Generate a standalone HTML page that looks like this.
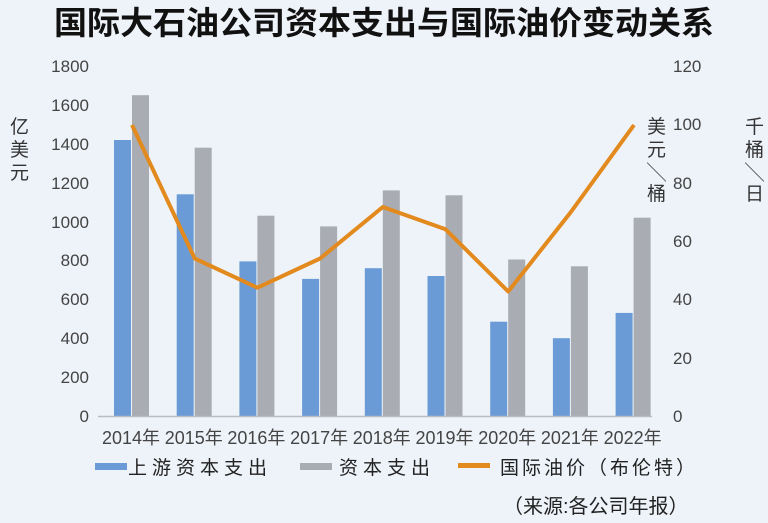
<!DOCTYPE html>
<html><head><meta charset="utf-8"><style>
html,body{margin:0;padding:0;background:#eef3f9;}
svg{display:block;}
text{font-family:"Liberation Sans","Noto Sans CJK SC",sans-serif;}
</style></head><body>
<svg width="768" height="523" viewBox="0 0 768 523" xmlns="http://www.w3.org/2000/svg">
<rect width="768" height="523" fill="#eef3f9"/>
<text x="384" y="34" text-anchor="middle" font-size="32" font-weight="bold" fill="#111" textLength="660" lengthAdjust="spacingAndGlyphs" style="font-family:'Noto Sans CJK SC',sans-serif">国际大石油公司资本支出与国际油价变动关系</text>
<g font-size="17" fill="#444" text-anchor="end">
<text x="89" y="72">1800</text><text x="89" y="111">1600</text><text x="89" y="150">1400</text>
<text x="89" y="189">1200</text><text x="89" y="228">1000</text><text x="89" y="266">800</text>
<text x="89" y="305">600</text><text x="89" y="344">400</text><text x="89" y="383">200</text><text x="89" y="422">0</text>
</g>
<g font-size="17" fill="#444">
<text x="673" y="72">120</text><text x="673" y="130">100</text><text x="673" y="189">80</text>
<text x="673" y="247">60</text><text x="673" y="305">40</text><text x="673" y="364">20</text><text x="673" y="422">0</text>
</g>
<g font-size="19" fill="#333" style="font-family:'Noto Sans CJK SC',sans-serif">
<text x="10" y="133">亿</text><text x="10" y="156">美</text><text x="10" y="179">元</text>
<text x="647" y="133">美</text><text x="647" y="156">元</text><text x="647" y="179">╲</text><text x="647" y="200">桶</text>
<text x="745" y="133">千</text><text x="745" y="156">桶</text><text x="745" y="179">╲</text><text x="745" y="200">日</text>
</g>
<g fill="#6a9bd6">
<rect x="114" y="140" width="17" height="276"/><rect x="176.7" y="194.3" width="17" height="221.7"/>
<rect x="239.4" y="261.4" width="17" height="154.6"/><rect x="302.1" y="278.9" width="17" height="137.1"/>
<rect x="364.8" y="268.2" width="17" height="147.8"/><rect x="427.5" y="276" width="17" height="140"/>
<rect x="490.2" y="321.7" width="17" height="94.3"/><rect x="552.9" y="338.2" width="17" height="77.8"/>
<rect x="615.6" y="312.9" width="17" height="103.1"/>
</g>
<g fill="#a9acb2">
<rect x="132" y="95.2" width="17" height="320.8"/><rect x="194.7" y="147.7" width="17" height="268.3"/>
<rect x="257.4" y="215.7" width="17" height="200.3"/><rect x="320.1" y="226.4" width="17" height="189.6"/>
<rect x="382.8" y="190.4" width="17" height="225.6"/><rect x="445.5" y="195.3" width="17" height="220.7"/>
<rect x="508.2" y="259.5" width="17" height="156.5"/><rect x="570.9" y="266.3" width="17" height="149.7"/>
<rect x="633.6" y="217.7" width="17" height="198.3"/>
</g>
<line x1="98" y1="416.5" x2="652" y2="416.5" stroke="#b8bcc4" stroke-width="1.5"/>
<polyline fill="none" stroke="#e38a1e" stroke-width="4" stroke-linejoin="round" points="132,125 194.7,258.5 257.4,287.7 320.1,258.5 382.8,207 445.5,229.3 508.2,291.5 570.9,212 634,125"/>
<g font-size="18" fill="#444" text-anchor="middle">
<text x="131" y="444" textLength="58" lengthAdjust="spacingAndGlyphs">2014年</text><text x="193.7" y="444" textLength="58" lengthAdjust="spacingAndGlyphs">2015年</text><text x="256.4" y="444" textLength="58" lengthAdjust="spacingAndGlyphs">2016年</text>
<text x="319.1" y="444" textLength="58" lengthAdjust="spacingAndGlyphs">2017年</text><text x="381.8" y="444" textLength="58" lengthAdjust="spacingAndGlyphs">2018年</text><text x="444.5" y="444" textLength="58" lengthAdjust="spacingAndGlyphs">2019年</text>
<text x="507.2" y="444" textLength="58" lengthAdjust="spacingAndGlyphs">2020年</text><text x="569.9" y="444" textLength="58" lengthAdjust="spacingAndGlyphs">2021年</text><text x="632.6" y="444" textLength="58" lengthAdjust="spacingAndGlyphs">2022年</text>
</g>
<rect x="95" y="463" width="32" height="7" fill="#6a9bd6"/>
<rect x="300" y="463" width="32" height="7" fill="#a9acb2"/>
<rect x="458" y="463" width="32" height="5" fill="#e38a1e"/>
<g font-size="19" fill="#222" style="font-family:'Noto Serif CJK SC',serif">
<text x="128" y="474" letter-spacing="5">上游资本支出</text>
<text x="339" y="474" letter-spacing="5">资本支出</text>
<text x="500" y="474" letter-spacing="3">国际油价（布伦特）</text>
<text x="503" y="513" font-size="20">（来源:各公司年报）</text>
</g>
</svg>
</body></html>
